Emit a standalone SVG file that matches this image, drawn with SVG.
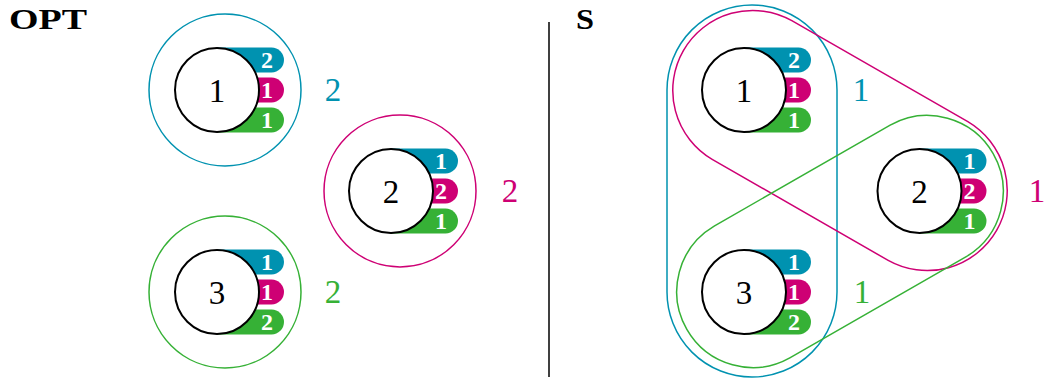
<svg xmlns="http://www.w3.org/2000/svg" width="1044" height="381" viewBox="0 0 1044 381">
<style>
.node{fill:#fff;stroke:#000;stroke-width:2}
text{font-family:"Liberation Serif","DejaVu Serif",serif}
.lbl{font-size:33px;text-anchor:middle}
.bt{font-size:24px;font-weight:bold;fill:#fff;text-anchor:middle}
.title{font-size:30px;font-weight:bold;fill:#000}
.cb{fill:none;stroke:#0092B0;stroke-width:1.5}
.cm{fill:none;stroke:#CE0074;stroke-width:1.5}
.cg{fill:none;stroke:#36B136;stroke-width:1.5}
.fb{fill:#0092B0}.fm{fill:#CE0074}.fg{fill:#36B136}
</style>
<defs>
<path id="pill" d="M0 -12.5 H54.5 A12.5 12.5 0 0 1 54.5 12.5 H0 Z"/>
</defs>
<rect width="1044" height="381" fill="#fff"/>
<text class="title" x="9" y="29" textLength="78" lengthAdjust="spacingAndGlyphs">OPT</text>
<text class="title" x="576" y="29" textLength="18" lengthAdjust="spacingAndGlyphs">S</text>
<line x1="549" y1="22" x2="549" y2="377" stroke="#000" stroke-width="1.5"/>

<g id="contours">
<circle class="cb" cx="225" cy="90" r="76"/>
<circle class="cm" cx="400" cy="191" r="76"/>
<circle class="cg" cx="225" cy="292" r="76"/>
<path class="cb" d="M667 90 A85 85 0 0 1 837 90 V292 A85 85 0 0 1 667 292 Z"/>
<path class="cm" d="M791.82 20.62 L967.82 121.62 A80 80 0 0 1 888.18 260.38 L712.18 159.38 A80 80 0 0 1 791.82 20.62 Z"/>
<path class="cg" d="M714.17 226.09 L890.17 125.09 A76 76 0 0 1 965.83 256.91 L789.83 357.91 A76 76 0 0 1 714.17 226.09 Z"/>
<text class="lbl" fill="#0092B0" x="333" y="101">2</text>
<text class="lbl" fill="#CE0074" x="510" y="202">2</text>
<text class="lbl" fill="#36B136" x="333" y="303">2</text>
<text class="lbl" fill="#0092B0" x="861" y="101">1</text>
<text class="lbl" fill="#CE0074" x="1037" y="202">1</text>
<text class="lbl" fill="#36B136" x="862" y="303">1</text>
</g>

<g id="opt-node-1">
<use href="#pill" x="217" y="60" class="fb"/><use href="#pill" x="217" y="90" class="fm"/><use href="#pill" x="217" y="120" class="fg"/>
<text class="bt" x="267" y="68">2</text><text class="bt" x="267" y="98">1</text><text class="bt" x="267" y="128">1</text>
<circle class="node" cx="217" cy="90" r="42"/><text class="lbl" x="217" y="101.5">1</text>
</g>
<g id="opt-node-2">
<use href="#pill" x="391" y="161" class="fb"/><use href="#pill" x="391" y="191" class="fm"/><use href="#pill" x="391" y="221" class="fg"/>
<text class="bt" x="441" y="169">1</text><text class="bt" x="441" y="199">2</text><text class="bt" x="441" y="229">1</text>
<circle class="node" cx="391" cy="191" r="42"/><text class="lbl" x="391" y="202.5">2</text>
</g>
<g id="opt-node-3">
<use href="#pill" x="217" y="262" class="fb"/><use href="#pill" x="217" y="292" class="fm"/><use href="#pill" x="217" y="322" class="fg"/>
<text class="bt" x="267" y="270">1</text><text class="bt" x="267" y="300">1</text><text class="bt" x="267" y="330">2</text>
<circle class="node" cx="217" cy="292" r="42"/><text class="lbl" x="217" y="303.5">3</text>
</g>

<g id="s-node-1">
<use href="#pill" x="744" y="60" class="fb"/><use href="#pill" x="744" y="90" class="fm"/><use href="#pill" x="744" y="120" class="fg"/>
<text class="bt" x="794" y="68">2</text><text class="bt" x="794" y="98">1</text><text class="bt" x="794" y="128">1</text>
<circle class="node" cx="744" cy="90" r="42"/><text class="lbl" x="744" y="101.5">1</text>
</g>
<g id="s-node-2">
<use href="#pill" x="919.5" y="161" class="fb"/><use href="#pill" x="919.5" y="191" class="fm"/><use href="#pill" x="919.5" y="221" class="fg"/>
<text class="bt" x="969.5" y="169">1</text><text class="bt" x="969.5" y="199">2</text><text class="bt" x="969.5" y="229">1</text>
<circle class="node" cx="919.5" cy="191" r="42"/><text class="lbl" x="919.5" y="202.5">2</text>
</g>
<g id="s-node-3">
<use href="#pill" x="744" y="262" class="fb"/><use href="#pill" x="744" y="292" class="fm"/><use href="#pill" x="744" y="322" class="fg"/>
<text class="bt" x="794" y="270">1</text><text class="bt" x="794" y="300">1</text><text class="bt" x="794" y="330">2</text>
<circle class="node" cx="744" cy="292" r="42"/><text class="lbl" x="744" y="303.5">3</text>
</g>
</svg>
